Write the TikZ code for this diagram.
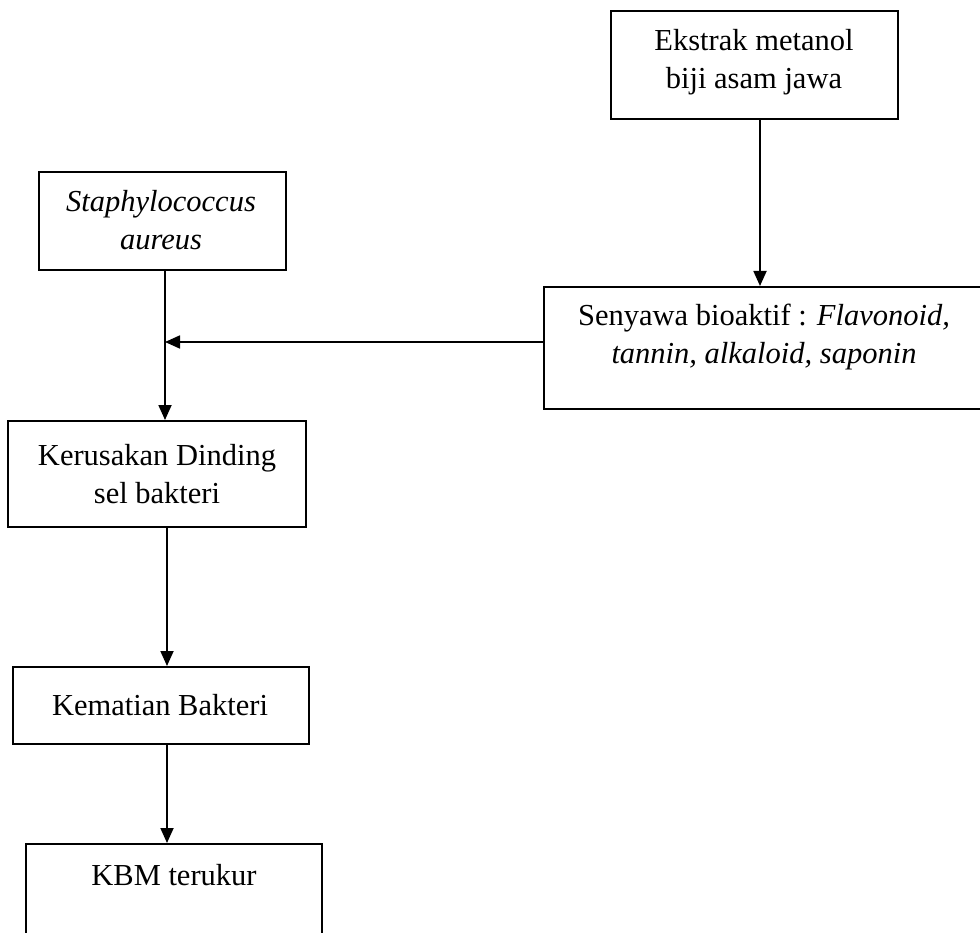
\documentclass[tikz,border=0pt]{standalone}
\usepackage{fontspec}
\setmainfont{Liberation Serif}
\usetikzlibrary{arrows.meta}
\tikzset{
  box/.style={draw, line width=1.8pt, rectangle, anchor=north west, inner sep=0pt},
  txt/.style={align=center, font=\fontsize{30.5}{38}\selectfont, inner sep=0pt},
  conn/.style={line width=1.8pt},
  arr/.style={conn, -{Triangle[length=15pt,width=13pt]}}
}
\begin{document}
\begin{tikzpicture}[x=1pt,y=-1pt]
\useasboundingbox (0,0) rectangle (980,933);
% boxes
\node[box, minimum width=287pt, minimum height=108pt] (ekstrak) at (610,10) {};
\node[txt] (ekstrakT) at (754,62) {Ekstrak metanol\\biji asam jawa};
\node[box, minimum width=247pt, minimum height=98pt] (staph) at (38,171) {};
\node[txt] (staphT) at (161,220) {\itshape Staphylococcus\\\itshape aureus};
\node[box, minimum width=460pt, minimum height=122pt] (senyawa) at (543,286) {};
\node[txt] (senyawaT) at (764,337) {Senyawa bioaktif : \textit{Flavonoid,}\\\textit{tannin, alkaloid, saponin}};
\node[box, minimum width=298pt, minimum height=106pt] (kerusakan) at (7,420) {};
\node[txt] (kerusakanT) at (157,474) {Kerusakan Dinding\\sel bakteri};
\node[box, minimum width=296pt, minimum height=77pt] (kematian) at (12,666) {};
\node[txt] (kematianT) at (160,705) {Kematian Bakteri};
\node[box, minimum width=296pt, minimum height=110pt] (kbm) at (25,843) {};
\node[txt] (kbmT) at (174,875) {KBM terukur};
% connector coordinates
\coordinate (xr) at (760,0);
\coordinate (xl) at (165,0);
\coordinate (xm) at (167,0);
\coordinate (join) at (165,342);
% connectors
\draw[arr] (ekstrak.south -| xr) -- (senyawa.north -| xr);
\draw[arr] (staph.south -| xl) -- (kerusakan.north -| xl);
\draw[arr] (senyawa.west |- join) -- (join);
\draw[arr] (kerusakan.south -| xm) -- (kematian.north -| xm);
\draw[arr] (kematian.south -| xm) -- (kbm.north -| xm);
\end{tikzpicture}
\end{document}
